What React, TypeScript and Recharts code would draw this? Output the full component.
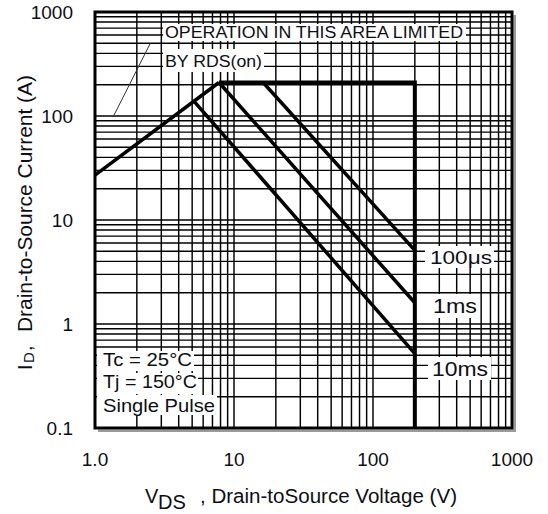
import { LineChart, Line, XAxis, YAxis, CartesianGrid, ReferenceLine } from 'recharts';

const FONT = '"Liberation Sans", Arial, Helvetica, sans-serif';
const INK = '#0e0e14';

// log grid lines (1-2-3...9 per decade)
const xTicks = [1, 2, 3, 4, 5, 6, 7, 8, 9, 10, 20, 30, 40, 50, 60, 70, 80, 90, 100, 200, 300, 400, 500, 600, 700, 800, 900, 1000];
const yTicks = [
  0.1, 0.2, 0.3, 0.4, 0.5, 0.6, 0.7, 0.8, 0.9,
  1, 2, 3, 4, 5, 6, 7, 8, 9,
  10, 20, 30, 40, 50, 60, 70, 80, 90,
  100, 200, 300, 400, 500, 600, 700, 800, 900, 1000,
];
const xLabelAt = [1, 10, 100, 1000];
const xLabelText = ['1.0', '10', '100', '1000'];
const yLabelAt = [0.1, 1, 10, 100, 1000];
const yLabelText = ['0.1', '1', '10', '100', '1000'];

// VDS (V) / ID (A)
const limitV = [7.8, 200, 200];
const limitI = [210, 210, 0.1];
const rdsV = [1, 7.8];
const rdsI = [27, 210];
const us100V = [16.2, 200];
const us100I = [210, 5.1];
const ms1V = [7.8, 200];
const ms1I = [210, 1.6];
const ms10V = [5.2, 200];
const ms10I = [137, 0.52];
const pointerV = [1.35, 2.5];
const pointerI = [98, 500];

const zip = (vs: number[], is: number[]) => vs.map((v, k) => ({ v, i: is[k] }));

const labelFor = (at: number[], text: string[]) => (value: number) => {
  const k = at.findIndex((a) => Math.abs(a - value) / a < 1e-6);
  return k >= 0 ? text[k] : '';
};

const series = [
  { name: 'limit', data: zip(limitV, limitI), w: 4 },
  { name: 'rds', data: zip(rdsV, rdsI), w: 3.5 },
  { name: '100us', data: zip(us100V, us100I), w: 3.5 },
  { name: '1ms', data: zip(ms1V, ms1I), w: 3.5 },
  { name: '10ms', data: zip(ms10V, ms10I), w: 3.5 },
];

export default function App() {
  return (
    <div style={{ position: 'absolute', left: 0, top: 0, width: 548, height: 514, background: '#fff' }}>
      <LineChart
        width={548}
        height={514}
        margin={{ top: 12, right: 36, bottom: 46, left: 0 }}
      >
        <CartesianGrid stroke="#000" strokeWidth={1.45} />
        <XAxis
          type="number"
          dataKey="v"
          scale="log"
          domain={[1, 1000]}
          ticks={xTicks}
          interval={0}
          height={40}
          axisLine={false}
          tickLine={false}
          tickSize={0}
          tickMargin={25}
          tickFormatter={labelFor(xLabelAt, xLabelText)}
          tick={{ fontSize: 19, fill: INK, fontFamily: FONT }}
          allowDataOverflow
        />
        <YAxis
          type="number"
          dataKey="i"
          scale="log"
          domain={[0.1, 1000]}
          ticks={yTicks}
          interval={0}
          width={95}
          axisLine={false}
          tickLine={false}
          tickSize={0}
          tickMargin={22}
          tickFormatter={labelFor(yLabelAt, yLabelText)}
          tick={{ fontSize: 19, fill: INK, fontFamily: FONT }}
          allowDataOverflow
        />
        <ReferenceLine
          segment={[
            { x: pointerV[0], y: pointerI[0] },
            { x: pointerV[1], y: pointerI[1] },
          ]}
          stroke="#333"
          strokeWidth={1}
          ifOverflow="visible"
        />
        {series.map((s) => (
          <Line
            key={s.name}
            data={s.data}
            dataKey="i"
            type="linear"
            stroke="#000"
            strokeWidth={s.w}
            dot={false}
            activeDot={false}
            isAnimationActive={false}
          />
        ))}
      </LineChart>

      <svg
        width={548}
        height={514}
        style={{ position: 'absolute', left: 0, top: 0, pointerEvents: 'none' }}
        fontFamily={FONT}
      >
        {/* frame + shadow */}
        <rect x={513.5} y={15} width={2.5} height={417} fill="#9a9a9a" />
        <rect x={98} y={429.5} width={418} height={2.5} fill="#9a9a9a" />
        <rect x={95} y={12} width={417} height={416} fill="none" stroke="#000" strokeWidth={3} />

        {/* label boxes */}
        <rect x={163} y={24} width={303} height={17} fill="#fff" />
        <rect x={163} y={49} width={101} height={23} fill="#fff" />
        <rect x={97} y={351} width={97} height={20} fill="#fff" />
        <rect x={97} y={373} width={101} height={21} fill="#fff" />
        <rect x={97} y={395} width={120} height={20} fill="#fff" />
        <rect x={425} y={246} width={69} height={22} fill="#fff" />
        <rect x={430} y={294} width={50} height={24} fill="#fff" />
        <rect x={428} y={357} width={63} height={23} fill="#fff" />

        <g fill={INK}>
          <text x={165} y={38} fontSize={16} textLength={298} lengthAdjust="spacingAndGlyphs">
            OPERATION IN THIS AREA LIMITED
          </text>
          <text x={165} y={67} fontSize={16} textLength={97} lengthAdjust="spacingAndGlyphs">
            BY RDS(on)
          </text>
          <text x={103} y={366} fontSize={19} textLength={89} lengthAdjust="spacingAndGlyphs">
            Tc = 25°C
          </text>
          <text x={103} y={388} fontSize={19} textLength={94} lengthAdjust="spacingAndGlyphs">
            Tj = 150°C
          </text>
          <text x={103} y={412} fontSize={19} textLength={112} lengthAdjust="spacingAndGlyphs">
            Single Pulse
          </text>
          <text x={430} y={264} fontSize={19} textLength={62} lengthAdjust="spacingAndGlyphs">
            100μs
          </text>
          <text x={433} y={313} fontSize={20} textLength={44} lengthAdjust="spacingAndGlyphs">
            1ms
          </text>
          <text x={432} y={376} fontSize={20} textLength={56} lengthAdjust="spacingAndGlyphs">
            10ms
          </text>

          {/* x axis title */}
          <text x={145} y={503} fontSize={20}>V</text>
          <text x={158} y={509} fontSize={20}>DS</text>
          <text x={200} y={503} fontSize={20} textLength={257} lengthAdjust="spacingAndGlyphs">
            , Drain-toSource Voltage (V)
          </text>

          {/* y axis title */}
          <text transform="translate(32,370) rotate(-90)" fontSize={20}>I</text>
          <text transform="translate(34,363) rotate(-90)" fontSize={15}>D</text>
          <text transform="translate(32,351) rotate(-90)" fontSize={20}>,</text>
          <text
            transform="translate(32,332) rotate(-90)"
            fontSize={20}
            textLength={257}
            lengthAdjust="spacingAndGlyphs"
          >
            Drain-to-Source Current (A)
          </text>
        </g>
      </svg>
    </div>
  );
}
